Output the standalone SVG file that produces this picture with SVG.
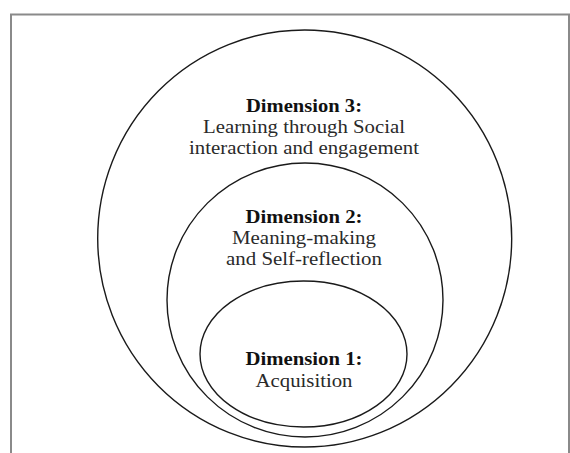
<svg xmlns="http://www.w3.org/2000/svg" width="570" height="453" viewBox="0 0 570 453">
<style>
.ring{fill:none;stroke:#1a1a1a;stroke-width:1.4}
.frame{fill:none;stroke:#8a8a8a;stroke-width:2}
.t{font-size:18px;text-anchor:middle;fill:#2a2a2a}
.b{font-weight:bold;fill:#111}
</style>
<rect width="570" height="453" fill="#ffffff"/>
<rect class="frame" x="11" y="14.5" width="558" height="470"/>
<g id="dimension3" font-family="Liberation Serif, Times New Roman, serif">
<ellipse class="ring" cx="304.7" cy="238.5" rx="207" ry="208.5"/>
<text class="t b" x="304" y="112" textLength="116" lengthAdjust="spacingAndGlyphs">Dimension 3:</text>
<text class="t" x="304" y="133" textLength="202" lengthAdjust="spacingAndGlyphs">Learning through Social</text>
<text class="t" x="304" y="153.5" textLength="230" lengthAdjust="spacingAndGlyphs">interaction and engagement</text>
</g>
<g id="dimension2" font-family="Liberation Serif, Times New Roman, serif">
<ellipse class="ring" cx="305" cy="300" rx="138" ry="137"/>
<text class="t b" x="304" y="223" textLength="117" lengthAdjust="spacingAndGlyphs">Dimension 2:</text>
<text class="t" x="304" y="244" textLength="144" lengthAdjust="spacingAndGlyphs">Meaning-making</text>
<text class="t" x="304" y="265" textLength="156" lengthAdjust="spacingAndGlyphs">and Self-reflection</text>
</g>
<g id="dimension1" font-family="Liberation Serif, Times New Roman, serif">
<ellipse class="ring" cx="303.5" cy="354" rx="103.5" ry="73"/>
<text class="t b" x="304" y="365" textLength="117" lengthAdjust="spacingAndGlyphs">Dimension 1:</text>
<text class="t" x="304" y="387" textLength="97" lengthAdjust="spacingAndGlyphs">Acquisition</text>
</g>
<g id="connectors"/>
</svg>
